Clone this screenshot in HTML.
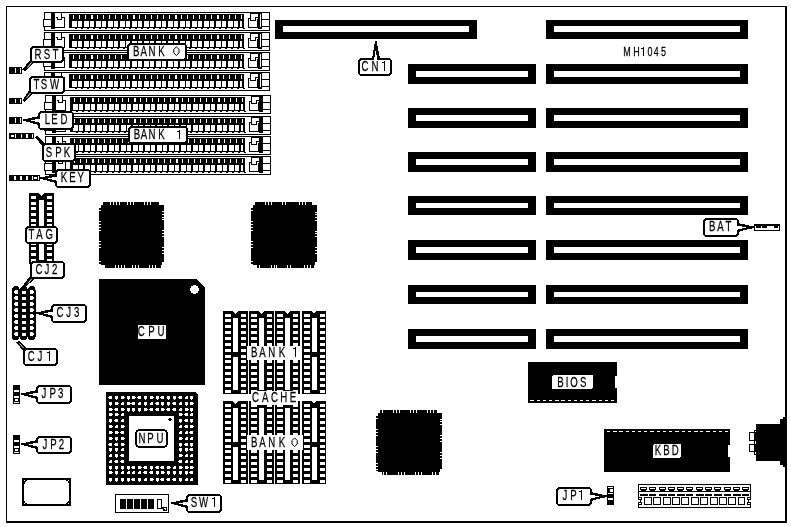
<!DOCTYPE html>
<html><head><meta charset="utf-8"><style>
html,body{margin:0;padding:0;background:#fff;}
svg{display:block;filter:grayscale(1);}
text{font-family:"Liberation Sans",sans-serif;stroke:#000;stroke-width:0.25px;}
</style></head><body>
<svg width="791" height="527" viewBox="0 0 791 527" shape-rendering="crispEdges">
<rect width="791" height="527" fill="#fff"/>
<rect x="6" y="6" width="780" height="1" fill="#000" />
<rect x="6" y="6" width="1" height="516" fill="#000" />
<rect x="785" y="6" width="2" height="517" fill="#000" />
<rect x="6" y="521" width="781" height="2" fill="#000" />
<rect x="546" y="20" width="202" height="19" fill="#000" />
<rect x="554" y="26" width="186" height="6" fill="#fff" />
<rect x="546" y="64" width="202" height="20" fill="#000" />
<rect x="554" y="71" width="186" height="6" fill="#fff" />
<rect x="408" y="64" width="128" height="20" fill="#000" />
<rect x="416" y="71" width="112" height="6" fill="#fff" />
<rect x="546" y="108" width="202" height="20" fill="#000" />
<rect x="554" y="115" width="186" height="6" fill="#fff" />
<rect x="408" y="108" width="128" height="20" fill="#000" />
<rect x="416" y="115" width="112" height="6" fill="#fff" />
<rect x="546" y="152" width="202" height="20" fill="#000" />
<rect x="554" y="159" width="186" height="6" fill="#fff" />
<rect x="408" y="152" width="128" height="20" fill="#000" />
<rect x="416" y="159" width="112" height="6" fill="#fff" />
<rect x="546" y="196" width="202" height="19" fill="#000" />
<rect x="554" y="203" width="186" height="5" fill="#fff" />
<rect x="408" y="196" width="128" height="19" fill="#000" />
<rect x="416" y="203" width="112" height="5" fill="#fff" />
<rect x="546" y="240" width="202" height="20" fill="#000" />
<rect x="554" y="247" width="186" height="6" fill="#fff" />
<rect x="408" y="240" width="128" height="20" fill="#000" />
<rect x="416" y="247" width="112" height="6" fill="#fff" />
<rect x="546" y="285" width="202" height="19" fill="#000" />
<rect x="554" y="292" width="186" height="5" fill="#fff" />
<rect x="408" y="285" width="128" height="19" fill="#000" />
<rect x="416" y="292" width="112" height="5" fill="#fff" />
<rect x="546" y="329" width="202" height="20" fill="#000" />
<rect x="554" y="336" width="186" height="6" fill="#fff" />
<rect x="408" y="329" width="128" height="20" fill="#000" />
<rect x="416" y="336" width="112" height="6" fill="#fff" />
<rect x="275" y="20" width="202" height="19" fill="#000" />
<rect x="283" y="26" width="186" height="6" fill="#fff" />
<path d="M103 202H159V205H164V262H162V265H161V268H105V265H101V264H99V208H101V205H103Z" fill="#000"/>
<rect x="110" y="202" width="1" height="3" fill="#fff" />
<rect x="113" y="202" width="1" height="3" fill="#fff" />
<rect x="116" y="202" width="1" height="3" fill="#fff" />
<rect x="119" y="202" width="1" height="3" fill="#fff" />
<rect x="127" y="202" width="1" height="3" fill="#fff" />
<rect x="130" y="202" width="1" height="3" fill="#fff" />
<rect x="133" y="202" width="1" height="3" fill="#fff" />
<rect x="144" y="202" width="1" height="3" fill="#fff" />
<rect x="147" y="202" width="1" height="3" fill="#fff" />
<rect x="150" y="202" width="1" height="3" fill="#fff" />
<rect x="115" y="265" width="1" height="3" fill="#fff" />
<rect x="118" y="265" width="1" height="3" fill="#fff" />
<rect x="121" y="265" width="1" height="3" fill="#fff" />
<rect x="124" y="265" width="1" height="3" fill="#fff" />
<rect x="132" y="265" width="1" height="3" fill="#fff" />
<rect x="135" y="265" width="1" height="3" fill="#fff" />
<rect x="138" y="265" width="1" height="3" fill="#fff" />
<rect x="149" y="265" width="1" height="3" fill="#fff" />
<rect x="152" y="265" width="1" height="3" fill="#fff" />
<rect x="155" y="265" width="1" height="3" fill="#fff" />
<rect x="99" y="210" width="2" height="1" fill="#fff" />
<rect x="99" y="221" width="2" height="1" fill="#fff" />
<rect x="99" y="224" width="2" height="1" fill="#fff" />
<rect x="99" y="227" width="2" height="1" fill="#fff" />
<rect x="99" y="230" width="2" height="1" fill="#fff" />
<rect x="99" y="241" width="2" height="1" fill="#fff" />
<rect x="99" y="244" width="2" height="1" fill="#fff" />
<rect x="99" y="247" width="2" height="1" fill="#fff" />
<rect x="99" y="261" width="2" height="1" fill="#fff" />
<rect x="162" y="211" width="2" height="1" fill="#fff" />
<rect x="162" y="214" width="2" height="1" fill="#fff" />
<rect x="162" y="217" width="2" height="1" fill="#fff" />
<rect x="162" y="219" width="2" height="1" fill="#fff" />
<rect x="162" y="230" width="2" height="1" fill="#fff" />
<rect x="162" y="233" width="2" height="1" fill="#fff" />
<rect x="162" y="236" width="2" height="1" fill="#fff" />
<rect x="162" y="247" width="2" height="1" fill="#fff" />
<rect x="162" y="250" width="2" height="1" fill="#fff" />
<rect x="162" y="253" width="2" height="1" fill="#fff" />
<path d="M255 202H312V205H317V262H315V265H314V268H257V265H253V264H251V208H253V205H255Z" fill="#000"/>
<rect x="265" y="202" width="1" height="3" fill="#fff" />
<rect x="268" y="202" width="1" height="3" fill="#fff" />
<rect x="271" y="202" width="1" height="3" fill="#fff" />
<rect x="282" y="202" width="1" height="3" fill="#fff" />
<rect x="285" y="202" width="1" height="3" fill="#fff" />
<rect x="299" y="202" width="1" height="3" fill="#fff" />
<rect x="302" y="202" width="1" height="3" fill="#fff" />
<rect x="305" y="202" width="1" height="3" fill="#fff" />
<rect x="259" y="265" width="1" height="3" fill="#fff" />
<rect x="271" y="265" width="1" height="3" fill="#fff" />
<rect x="274" y="265" width="1" height="3" fill="#fff" />
<rect x="276" y="265" width="1" height="3" fill="#fff" />
<rect x="287" y="265" width="1" height="3" fill="#fff" />
<rect x="290" y="265" width="1" height="3" fill="#fff" />
<rect x="304" y="265" width="1" height="3" fill="#fff" />
<rect x="307" y="265" width="1" height="3" fill="#fff" />
<rect x="310" y="265" width="1" height="3" fill="#fff" />
<rect x="251" y="210" width="2" height="1" fill="#fff" />
<rect x="251" y="221" width="2" height="1" fill="#fff" />
<rect x="251" y="224" width="2" height="1" fill="#fff" />
<rect x="251" y="227" width="2" height="1" fill="#fff" />
<rect x="251" y="230" width="2" height="1" fill="#fff" />
<rect x="251" y="241" width="2" height="1" fill="#fff" />
<rect x="251" y="244" width="2" height="1" fill="#fff" />
<rect x="251" y="247" width="2" height="1" fill="#fff" />
<rect x="251" y="261" width="2" height="1" fill="#fff" />
<rect x="315" y="212" width="2" height="1" fill="#fff" />
<rect x="315" y="214" width="2" height="1" fill="#fff" />
<rect x="315" y="217" width="2" height="1" fill="#fff" />
<rect x="315" y="220" width="2" height="1" fill="#fff" />
<rect x="315" y="231" width="2" height="1" fill="#fff" />
<rect x="315" y="233" width="2" height="1" fill="#fff" />
<rect x="315" y="236" width="2" height="1" fill="#fff" />
<rect x="315" y="247" width="2" height="1" fill="#fff" />
<rect x="315" y="250" width="2" height="1" fill="#fff" />
<rect x="315" y="253" width="2" height="1" fill="#fff" />
<path d="M380 410H437V413H442V469H440V472H439V475H382V472H378V471H376V416H378V413H380Z" fill="#000"/>
<rect x="382" y="410" width="1" height="3" fill="#fff" />
<rect x="393" y="410" width="1" height="3" fill="#fff" />
<rect x="396" y="410" width="1" height="3" fill="#fff" />
<rect x="399" y="410" width="1" height="3" fill="#fff" />
<rect x="410" y="410" width="1" height="3" fill="#fff" />
<rect x="413" y="410" width="1" height="3" fill="#fff" />
<rect x="416" y="410" width="1" height="3" fill="#fff" />
<rect x="427" y="410" width="1" height="3" fill="#fff" />
<rect x="430" y="410" width="1" height="3" fill="#fff" />
<rect x="433" y="410" width="1" height="3" fill="#fff" />
<rect x="383" y="472" width="1" height="3" fill="#fff" />
<rect x="386" y="472" width="1" height="3" fill="#fff" />
<rect x="398" y="472" width="1" height="3" fill="#fff" />
<rect x="401" y="472" width="1" height="3" fill="#fff" />
<rect x="404" y="472" width="1" height="3" fill="#fff" />
<rect x="415" y="472" width="1" height="3" fill="#fff" />
<rect x="418" y="472" width="1" height="3" fill="#fff" />
<rect x="421" y="472" width="1" height="3" fill="#fff" />
<rect x="432" y="472" width="1" height="3" fill="#fff" />
<rect x="435" y="472" width="1" height="3" fill="#fff" />
<rect x="376" y="418" width="2" height="1" fill="#fff" />
<rect x="376" y="429" width="2" height="1" fill="#fff" />
<rect x="376" y="432" width="2" height="1" fill="#fff" />
<rect x="376" y="435" width="2" height="1" fill="#fff" />
<rect x="376" y="446" width="2" height="1" fill="#fff" />
<rect x="376" y="449" width="2" height="1" fill="#fff" />
<rect x="376" y="452" width="2" height="1" fill="#fff" />
<rect x="376" y="463" width="2" height="1" fill="#fff" />
<rect x="376" y="466" width="2" height="1" fill="#fff" />
<rect x="376" y="469" width="2" height="1" fill="#fff" />
<rect x="440" y="419" width="2" height="1" fill="#fff" />
<rect x="440" y="421" width="2" height="1" fill="#fff" />
<rect x="440" y="424" width="2" height="1" fill="#fff" />
<rect x="440" y="435" width="2" height="1" fill="#fff" />
<rect x="440" y="438" width="2" height="1" fill="#fff" />
<rect x="440" y="441" width="2" height="1" fill="#fff" />
<rect x="440" y="452" width="2" height="1" fill="#fff" />
<rect x="440" y="455" width="2" height="1" fill="#fff" />
<rect x="440" y="458" width="2" height="1" fill="#fff" />
<path d="M99 279H196.5L205 287.5V385H99Z" fill="#000"/>
<circle cx="194.5" cy="289.4" r="4.4" fill="#fff"/>
<rect x="138" y="325" width="28" height="14" fill="#fff" />
<text transform="scale(0.68,1)" x="207.79 222.79 236.76" y="335.7" font-size="14.2" text-anchor="middle" fill="#000">CPU</text>
<path d="M106 392H195L198 395V485H106Z" fill="#000"/>
<rect x="109" y="396" width="3" height="3" fill="#fff" />
<rect x="108" y="397" width="1" height="1" fill="#fff" />
<rect x="115" y="396" width="3" height="3" fill="#fff" />
<rect x="116" y="399" width="1" height="1" fill="#fff" />
<rect x="121" y="396" width="3" height="3" fill="#fff" />
<rect x="124" y="397" width="1" height="1" fill="#fff" />
<rect x="127" y="396" width="3" height="3" fill="#fff" />
<rect x="128" y="399" width="1" height="1" fill="#fff" />
<rect x="132" y="396" width="3" height="3" fill="#fff" />
<rect x="135" y="397" width="1" height="1" fill="#fff" />
<rect x="138" y="396" width="3" height="3" fill="#fff" />
<rect x="137" y="397" width="1" height="1" fill="#fff" />
<rect x="144" y="396" width="3" height="3" fill="#fff" />
<rect x="145" y="399" width="1" height="1" fill="#fff" />
<rect x="150" y="396" width="3" height="3" fill="#fff" />
<rect x="153" y="397" width="1" height="1" fill="#fff" />
<rect x="156" y="396" width="3" height="3" fill="#fff" />
<rect x="157" y="399" width="1" height="1" fill="#fff" />
<rect x="161" y="396" width="3" height="3" fill="#fff" />
<rect x="160" y="397" width="1" height="1" fill="#fff" />
<rect x="167" y="396" width="3" height="3" fill="#fff" />
<rect x="168" y="399" width="1" height="1" fill="#fff" />
<rect x="173" y="396" width="3" height="3" fill="#fff" />
<rect x="174" y="399" width="1" height="1" fill="#fff" />
<rect x="179" y="396" width="3" height="3" fill="#fff" />
<rect x="178" y="397" width="1" height="1" fill="#fff" />
<rect x="185" y="396" width="3" height="3" fill="#fff" />
<rect x="185" y="396" width="1" height="1" fill="#000" />
<rect x="190" y="396" width="3" height="3" fill="#fff" />
<rect x="191" y="399" width="1" height="1" fill="#fff" />
<rect x="109" y="402" width="3" height="3" fill="#fff" />
<rect x="110" y="405" width="1" height="1" fill="#fff" />
<rect x="115" y="402" width="3" height="3" fill="#fff" />
<rect x="118" y="403" width="1" height="1" fill="#fff" />
<rect x="121" y="402" width="3" height="3" fill="#fff" />
<rect x="121" y="402" width="1" height="1" fill="#000" />
<rect x="127" y="402" width="3" height="3" fill="#fff" />
<rect x="130" y="403" width="1" height="1" fill="#fff" />
<rect x="132" y="402" width="3" height="3" fill="#fff" />
<rect x="131" y="403" width="1" height="1" fill="#fff" />
<rect x="138" y="402" width="3" height="3" fill="#fff" />
<rect x="138" y="402" width="1" height="1" fill="#000" />
<rect x="144" y="402" width="3" height="3" fill="#fff" />
<rect x="145" y="405" width="1" height="1" fill="#fff" />
<rect x="150" y="402" width="3" height="3" fill="#fff" />
<rect x="150" y="402" width="1" height="1" fill="#000" />
<rect x="156" y="402" width="3" height="3" fill="#fff" />
<rect x="155" y="403" width="1" height="1" fill="#fff" />
<rect x="161" y="402" width="3" height="3" fill="#fff" />
<rect x="162" y="405" width="1" height="1" fill="#fff" />
<rect x="167" y="402" width="3" height="3" fill="#fff" />
<rect x="168" y="405" width="1" height="1" fill="#fff" />
<rect x="173" y="402" width="3" height="3" fill="#fff" />
<rect x="172" y="403" width="1" height="1" fill="#fff" />
<rect x="179" y="402" width="3" height="3" fill="#fff" />
<rect x="179" y="402" width="1" height="1" fill="#000" />
<rect x="185" y="402" width="3" height="3" fill="#fff" />
<rect x="186" y="405" width="1" height="1" fill="#fff" />
<rect x="190" y="402" width="3" height="3" fill="#fff" />
<rect x="193" y="403" width="1" height="1" fill="#fff" />
<rect x="109" y="408" width="3" height="3" fill="#fff" />
<rect x="112" y="409" width="1" height="1" fill="#fff" />
<rect x="115" y="408" width="3" height="3" fill="#fff" />
<rect x="114" y="409" width="1" height="1" fill="#fff" />
<rect x="121" y="408" width="3" height="3" fill="#fff" />
<rect x="124" y="409" width="1" height="1" fill="#fff" />
<rect x="127" y="408" width="3" height="3" fill="#fff" />
<rect x="128" y="411" width="1" height="1" fill="#fff" />
<rect x="132" y="408" width="3" height="3" fill="#fff" />
<rect x="133" y="411" width="1" height="1" fill="#fff" />
<rect x="138" y="408" width="3" height="3" fill="#fff" />
<rect x="139" y="411" width="1" height="1" fill="#fff" />
<rect x="144" y="408" width="3" height="3" fill="#fff" />
<rect x="147" y="409" width="1" height="1" fill="#fff" />
<rect x="150" y="408" width="3" height="3" fill="#fff" />
<rect x="149" y="409" width="1" height="1" fill="#fff" />
<rect x="156" y="408" width="3" height="3" fill="#fff" />
<rect x="155" y="409" width="1" height="1" fill="#fff" />
<rect x="161" y="408" width="3" height="3" fill="#fff" />
<rect x="164" y="409" width="1" height="1" fill="#fff" />
<rect x="167" y="408" width="3" height="3" fill="#fff" />
<rect x="166" y="409" width="1" height="1" fill="#fff" />
<rect x="173" y="408" width="3" height="3" fill="#fff" />
<rect x="172" y="409" width="1" height="1" fill="#fff" />
<rect x="179" y="408" width="3" height="3" fill="#fff" />
<rect x="179" y="408" width="1" height="1" fill="#000" />
<rect x="185" y="408" width="3" height="3" fill="#fff" />
<rect x="188" y="409" width="1" height="1" fill="#fff" />
<rect x="190" y="408" width="3" height="3" fill="#fff" />
<rect x="191" y="411" width="1" height="1" fill="#fff" />
<rect x="109" y="413" width="3" height="3" fill="#fff" />
<rect x="112" y="414" width="1" height="1" fill="#fff" />
<rect x="115" y="413" width="3" height="3" fill="#fff" />
<rect x="118" y="414" width="1" height="1" fill="#fff" />
<rect x="121" y="413" width="3" height="3" fill="#fff" />
<rect x="121" y="413" width="1" height="1" fill="#000" />
<rect x="179" y="413" width="3" height="3" fill="#fff" />
<rect x="182" y="414" width="1" height="1" fill="#fff" />
<rect x="185" y="413" width="3" height="3" fill="#fff" />
<rect x="184" y="414" width="1" height="1" fill="#fff" />
<rect x="190" y="413" width="3" height="3" fill="#fff" />
<rect x="190" y="413" width="1" height="1" fill="#000" />
<rect x="109" y="419" width="3" height="3" fill="#fff" />
<rect x="110" y="422" width="1" height="1" fill="#fff" />
<rect x="115" y="419" width="3" height="3" fill="#fff" />
<rect x="114" y="420" width="1" height="1" fill="#fff" />
<rect x="121" y="419" width="3" height="3" fill="#fff" />
<rect x="121" y="419" width="1" height="1" fill="#000" />
<rect x="179" y="419" width="3" height="3" fill="#fff" />
<rect x="180" y="422" width="1" height="1" fill="#fff" />
<rect x="185" y="419" width="3" height="3" fill="#fff" />
<rect x="184" y="420" width="1" height="1" fill="#fff" />
<rect x="190" y="419" width="3" height="3" fill="#fff" />
<rect x="191" y="422" width="1" height="1" fill="#fff" />
<rect x="109" y="425" width="3" height="3" fill="#fff" />
<rect x="112" y="426" width="1" height="1" fill="#fff" />
<rect x="115" y="425" width="3" height="3" fill="#fff" />
<rect x="115" y="425" width="1" height="1" fill="#000" />
<rect x="121" y="425" width="3" height="3" fill="#fff" />
<rect x="124" y="426" width="1" height="1" fill="#fff" />
<rect x="179" y="425" width="3" height="3" fill="#fff" />
<rect x="179" y="425" width="1" height="1" fill="#000" />
<rect x="185" y="425" width="3" height="3" fill="#fff" />
<rect x="184" y="426" width="1" height="1" fill="#fff" />
<rect x="190" y="425" width="3" height="3" fill="#fff" />
<rect x="193" y="426" width="1" height="1" fill="#fff" />
<rect x="109" y="431" width="3" height="3" fill="#fff" />
<rect x="112" y="432" width="1" height="1" fill="#fff" />
<rect x="115" y="431" width="3" height="3" fill="#fff" />
<rect x="118" y="432" width="1" height="1" fill="#fff" />
<rect x="121" y="431" width="3" height="3" fill="#fff" />
<rect x="120" y="432" width="1" height="1" fill="#fff" />
<rect x="179" y="431" width="3" height="3" fill="#fff" />
<rect x="179" y="431" width="1" height="1" fill="#000" />
<rect x="185" y="431" width="3" height="3" fill="#fff" />
<rect x="185" y="431" width="1" height="1" fill="#000" />
<rect x="190" y="431" width="3" height="3" fill="#fff" />
<rect x="189" y="432" width="1" height="1" fill="#fff" />
<rect x="109" y="437" width="3" height="3" fill="#fff" />
<rect x="112" y="438" width="1" height="1" fill="#fff" />
<rect x="115" y="437" width="3" height="3" fill="#fff" />
<rect x="116" y="440" width="1" height="1" fill="#fff" />
<rect x="121" y="437" width="3" height="3" fill="#fff" />
<rect x="124" y="438" width="1" height="1" fill="#fff" />
<rect x="179" y="437" width="3" height="3" fill="#fff" />
<rect x="182" y="438" width="1" height="1" fill="#fff" />
<rect x="185" y="437" width="3" height="3" fill="#fff" />
<rect x="185" y="437" width="1" height="1" fill="#000" />
<rect x="190" y="437" width="3" height="3" fill="#fff" />
<rect x="190" y="437" width="1" height="1" fill="#000" />
<rect x="109" y="443" width="3" height="3" fill="#fff" />
<rect x="108" y="444" width="1" height="1" fill="#fff" />
<rect x="115" y="443" width="3" height="3" fill="#fff" />
<rect x="114" y="444" width="1" height="1" fill="#fff" />
<rect x="121" y="443" width="3" height="3" fill="#fff" />
<rect x="124" y="444" width="1" height="1" fill="#fff" />
<rect x="179" y="443" width="3" height="3" fill="#fff" />
<rect x="180" y="446" width="1" height="1" fill="#fff" />
<rect x="185" y="443" width="3" height="3" fill="#fff" />
<rect x="184" y="444" width="1" height="1" fill="#fff" />
<rect x="190" y="443" width="3" height="3" fill="#fff" />
<rect x="191" y="446" width="1" height="1" fill="#fff" />
<rect x="109" y="448" width="3" height="3" fill="#fff" />
<rect x="110" y="451" width="1" height="1" fill="#fff" />
<rect x="115" y="448" width="3" height="3" fill="#fff" />
<rect x="116" y="451" width="1" height="1" fill="#fff" />
<rect x="121" y="448" width="3" height="3" fill="#fff" />
<rect x="121" y="448" width="1" height="1" fill="#000" />
<rect x="179" y="448" width="3" height="3" fill="#fff" />
<rect x="180" y="451" width="1" height="1" fill="#fff" />
<rect x="185" y="448" width="3" height="3" fill="#fff" />
<rect x="186" y="451" width="1" height="1" fill="#fff" />
<rect x="190" y="448" width="3" height="3" fill="#fff" />
<rect x="189" y="449" width="1" height="1" fill="#fff" />
<rect x="109" y="454" width="3" height="3" fill="#fff" />
<rect x="109" y="454" width="1" height="1" fill="#000" />
<rect x="115" y="454" width="3" height="3" fill="#fff" />
<rect x="116" y="457" width="1" height="1" fill="#fff" />
<rect x="121" y="454" width="3" height="3" fill="#fff" />
<rect x="120" y="455" width="1" height="1" fill="#fff" />
<rect x="179" y="454" width="3" height="3" fill="#fff" />
<rect x="182" y="455" width="1" height="1" fill="#fff" />
<rect x="185" y="454" width="3" height="3" fill="#fff" />
<rect x="185" y="454" width="1" height="1" fill="#000" />
<rect x="190" y="454" width="3" height="3" fill="#fff" />
<rect x="190" y="454" width="1" height="1" fill="#000" />
<rect x="109" y="460" width="3" height="3" fill="#fff" />
<rect x="109" y="460" width="1" height="1" fill="#000" />
<rect x="115" y="460" width="3" height="3" fill="#fff" />
<rect x="114" y="461" width="1" height="1" fill="#fff" />
<rect x="121" y="460" width="3" height="3" fill="#fff" />
<rect x="120" y="461" width="1" height="1" fill="#fff" />
<rect x="179" y="460" width="3" height="3" fill="#fff" />
<rect x="178" y="461" width="1" height="1" fill="#fff" />
<rect x="185" y="460" width="3" height="3" fill="#fff" />
<rect x="185" y="460" width="1" height="1" fill="#000" />
<rect x="190" y="460" width="3" height="3" fill="#fff" />
<rect x="190" y="460" width="1" height="1" fill="#000" />
<rect x="109" y="466" width="3" height="3" fill="#fff" />
<rect x="110" y="469" width="1" height="1" fill="#fff" />
<rect x="115" y="466" width="3" height="3" fill="#fff" />
<rect x="116" y="469" width="1" height="1" fill="#fff" />
<rect x="121" y="466" width="3" height="3" fill="#fff" />
<rect x="122" y="469" width="1" height="1" fill="#fff" />
<rect x="127" y="466" width="3" height="3" fill="#fff" />
<rect x="128" y="469" width="1" height="1" fill="#fff" />
<rect x="132" y="466" width="3" height="3" fill="#fff" />
<rect x="131" y="467" width="1" height="1" fill="#fff" />
<rect x="138" y="466" width="3" height="3" fill="#fff" />
<rect x="141" y="467" width="1" height="1" fill="#fff" />
<rect x="144" y="466" width="3" height="3" fill="#fff" />
<rect x="143" y="467" width="1" height="1" fill="#fff" />
<rect x="150" y="466" width="3" height="3" fill="#fff" />
<rect x="151" y="469" width="1" height="1" fill="#fff" />
<rect x="156" y="466" width="3" height="3" fill="#fff" />
<rect x="155" y="467" width="1" height="1" fill="#fff" />
<rect x="161" y="466" width="3" height="3" fill="#fff" />
<rect x="160" y="467" width="1" height="1" fill="#fff" />
<rect x="167" y="466" width="3" height="3" fill="#fff" />
<rect x="170" y="467" width="1" height="1" fill="#fff" />
<rect x="173" y="466" width="3" height="3" fill="#fff" />
<rect x="173" y="466" width="1" height="1" fill="#000" />
<rect x="179" y="466" width="3" height="3" fill="#fff" />
<rect x="182" y="467" width="1" height="1" fill="#fff" />
<rect x="185" y="466" width="3" height="3" fill="#fff" />
<rect x="188" y="467" width="1" height="1" fill="#fff" />
<rect x="190" y="466" width="3" height="3" fill="#fff" />
<rect x="193" y="467" width="1" height="1" fill="#fff" />
<rect x="109" y="471" width="3" height="3" fill="#fff" />
<rect x="112" y="472" width="1" height="1" fill="#fff" />
<rect x="115" y="471" width="3" height="3" fill="#fff" />
<rect x="116" y="474" width="1" height="1" fill="#fff" />
<rect x="121" y="471" width="3" height="3" fill="#fff" />
<rect x="121" y="471" width="1" height="1" fill="#000" />
<rect x="127" y="471" width="3" height="3" fill="#fff" />
<rect x="127" y="471" width="1" height="1" fill="#000" />
<rect x="132" y="471" width="3" height="3" fill="#fff" />
<rect x="132" y="471" width="1" height="1" fill="#000" />
<rect x="138" y="471" width="3" height="3" fill="#fff" />
<rect x="138" y="471" width="1" height="1" fill="#000" />
<rect x="144" y="471" width="3" height="3" fill="#fff" />
<rect x="143" y="472" width="1" height="1" fill="#fff" />
<rect x="150" y="471" width="3" height="3" fill="#fff" />
<rect x="149" y="472" width="1" height="1" fill="#fff" />
<rect x="156" y="471" width="3" height="3" fill="#fff" />
<rect x="157" y="474" width="1" height="1" fill="#fff" />
<rect x="161" y="471" width="3" height="3" fill="#fff" />
<rect x="164" y="472" width="1" height="1" fill="#fff" />
<rect x="167" y="471" width="3" height="3" fill="#fff" />
<rect x="168" y="474" width="1" height="1" fill="#fff" />
<rect x="173" y="471" width="3" height="3" fill="#fff" />
<rect x="174" y="474" width="1" height="1" fill="#fff" />
<rect x="179" y="471" width="3" height="3" fill="#fff" />
<rect x="180" y="474" width="1" height="1" fill="#fff" />
<rect x="185" y="471" width="3" height="3" fill="#fff" />
<rect x="186" y="474" width="1" height="1" fill="#fff" />
<rect x="190" y="471" width="3" height="3" fill="#fff" />
<rect x="189" y="472" width="1" height="1" fill="#fff" />
<rect x="109" y="478" width="3" height="3" fill="#fff" />
<rect x="110" y="481" width="1" height="1" fill="#fff" />
<rect x="115" y="478" width="3" height="3" fill="#fff" />
<rect x="116" y="481" width="1" height="1" fill="#fff" />
<rect x="121" y="478" width="3" height="3" fill="#fff" />
<rect x="122" y="481" width="1" height="1" fill="#fff" />
<rect x="127" y="478" width="3" height="3" fill="#fff" />
<rect x="128" y="481" width="1" height="1" fill="#fff" />
<rect x="132" y="478" width="3" height="3" fill="#fff" />
<rect x="131" y="479" width="1" height="1" fill="#fff" />
<rect x="138" y="478" width="3" height="3" fill="#fff" />
<rect x="139" y="481" width="1" height="1" fill="#fff" />
<rect x="144" y="478" width="3" height="3" fill="#fff" />
<rect x="144" y="478" width="1" height="1" fill="#000" />
<rect x="150" y="478" width="3" height="3" fill="#fff" />
<rect x="153" y="479" width="1" height="1" fill="#fff" />
<rect x="156" y="478" width="3" height="3" fill="#fff" />
<rect x="157" y="481" width="1" height="1" fill="#fff" />
<rect x="161" y="478" width="3" height="3" fill="#fff" />
<rect x="160" y="479" width="1" height="1" fill="#fff" />
<rect x="167" y="478" width="3" height="3" fill="#fff" />
<rect x="166" y="479" width="1" height="1" fill="#fff" />
<rect x="173" y="478" width="3" height="3" fill="#fff" />
<rect x="172" y="479" width="1" height="1" fill="#fff" />
<rect x="179" y="478" width="3" height="3" fill="#fff" />
<rect x="180" y="481" width="1" height="1" fill="#fff" />
<rect x="185" y="478" width="3" height="3" fill="#fff" />
<rect x="185" y="478" width="1" height="1" fill="#000" />
<rect x="190" y="478" width="3" height="3" fill="#fff" />
<rect x="190" y="478" width="1" height="1" fill="#000" />
<rect x="129" y="416" width="45" height="45" fill="#fff" />
<circle cx="170" cy="419.5" r="1.8" fill="#000"/>
<rect x="136.0" y="430.0" width="31" height="17" rx="4" ry="4" fill="#fff" stroke="#000" stroke-width="2"/>
<text transform="scale(0.68,1)" x="208.82 221.18 235.29" y="442.8" font-size="14.2" text-anchor="middle" fill="#000">NPU</text>
<rect x="223" y="311" width="25" height="83" fill="#000" />
<path d="M233.0 311L235.5 314L238.0 311Z" fill="#fff"/>
<rect x="225" y="314" width="5.5" height="3" fill="#fff" />
<rect x="241" y="314" width="5" height="3" fill="#fff" />
<rect x="225" y="319" width="5.5" height="3" fill="#fff" />
<rect x="241" y="319" width="5" height="3" fill="#fff" />
<rect x="225" y="325" width="5.5" height="3" fill="#fff" />
<rect x="241" y="325" width="5" height="3" fill="#fff" />
<rect x="225" y="331" width="5.5" height="3" fill="#fff" />
<rect x="241" y="331" width="5" height="3" fill="#fff" />
<rect x="225" y="337" width="5.5" height="3" fill="#fff" />
<rect x="241" y="337" width="5" height="3" fill="#fff" />
<rect x="225" y="343" width="5.5" height="3" fill="#fff" />
<rect x="241" y="343" width="5" height="3" fill="#fff" />
<rect x="225" y="349" width="5.5" height="3" fill="#fff" />
<rect x="241" y="349" width="5" height="3" fill="#fff" />
<rect x="225" y="355" width="5.5" height="3" fill="#fff" />
<rect x="241" y="355" width="5" height="3" fill="#fff" />
<rect x="225" y="360" width="5.5" height="3" fill="#fff" />
<rect x="241" y="360" width="5" height="3" fill="#fff" />
<rect x="225" y="366" width="5.5" height="3" fill="#fff" />
<rect x="241" y="366" width="5" height="3" fill="#fff" />
<rect x="225" y="372" width="5.5" height="3" fill="#fff" />
<rect x="241" y="372" width="5" height="3" fill="#fff" />
<rect x="225" y="378" width="5.5" height="3" fill="#fff" />
<rect x="241" y="378" width="5" height="3" fill="#fff" />
<rect x="225" y="384" width="5.5" height="3" fill="#fff" />
<rect x="241" y="384" width="5" height="3" fill="#fff" />
<rect x="225" y="390" width="5.5" height="3" fill="#fff" />
<rect x="241" y="390" width="5" height="3" fill="#fff" />
<rect x="233" y="318" width="5" height="34" fill="#fff" />
<rect x="233" y="357" width="5" height="33" fill="#fff" />
<rect x="223" y="401" width="25" height="83" fill="#000" />
<path d="M233.0 401L235.5 404L238.0 401Z" fill="#fff"/>
<rect x="225" y="404" width="5.5" height="3" fill="#fff" />
<rect x="241" y="404" width="5" height="3" fill="#fff" />
<rect x="225" y="409" width="5.5" height="3" fill="#fff" />
<rect x="241" y="409" width="5" height="3" fill="#fff" />
<rect x="225" y="415" width="5.5" height="3" fill="#fff" />
<rect x="241" y="415" width="5" height="3" fill="#fff" />
<rect x="225" y="421" width="5.5" height="3" fill="#fff" />
<rect x="241" y="421" width="5" height="3" fill="#fff" />
<rect x="225" y="427" width="5.5" height="3" fill="#fff" />
<rect x="241" y="427" width="5" height="3" fill="#fff" />
<rect x="225" y="433" width="5.5" height="3" fill="#fff" />
<rect x="241" y="433" width="5" height="3" fill="#fff" />
<rect x="225" y="439" width="5.5" height="3" fill="#fff" />
<rect x="241" y="439" width="5" height="3" fill="#fff" />
<rect x="225" y="445" width="5.5" height="3" fill="#fff" />
<rect x="241" y="445" width="5" height="3" fill="#fff" />
<rect x="225" y="450" width="5.5" height="3" fill="#fff" />
<rect x="241" y="450" width="5" height="3" fill="#fff" />
<rect x="225" y="456" width="5.5" height="3" fill="#fff" />
<rect x="241" y="456" width="5" height="3" fill="#fff" />
<rect x="225" y="462" width="5.5" height="3" fill="#fff" />
<rect x="241" y="462" width="5" height="3" fill="#fff" />
<rect x="225" y="468" width="5.5" height="3" fill="#fff" />
<rect x="241" y="468" width="5" height="3" fill="#fff" />
<rect x="225" y="474" width="5.5" height="3" fill="#fff" />
<rect x="241" y="474" width="5" height="3" fill="#fff" />
<rect x="225" y="480" width="5.5" height="3" fill="#fff" />
<rect x="241" y="480" width="5" height="3" fill="#fff" />
<rect x="233" y="408" width="5" height="34" fill="#fff" />
<rect x="233" y="447" width="5" height="33" fill="#fff" />
<rect x="249" y="311" width="25" height="83" fill="#000" />
<path d="M259.0 311L261.5 314L264.0 311Z" fill="#fff"/>
<rect x="251" y="314" width="5.5" height="3" fill="#fff" />
<rect x="267" y="314" width="5" height="3" fill="#fff" />
<rect x="251" y="319" width="5.5" height="3" fill="#fff" />
<rect x="267" y="319" width="5" height="3" fill="#fff" />
<rect x="251" y="325" width="5.5" height="3" fill="#fff" />
<rect x="267" y="325" width="5" height="3" fill="#fff" />
<rect x="251" y="331" width="5.5" height="3" fill="#fff" />
<rect x="267" y="331" width="5" height="3" fill="#fff" />
<rect x="251" y="337" width="5.5" height="3" fill="#fff" />
<rect x="267" y="337" width="5" height="3" fill="#fff" />
<rect x="251" y="343" width="5.5" height="3" fill="#fff" />
<rect x="267" y="343" width="5" height="3" fill="#fff" />
<rect x="251" y="349" width="5.5" height="3" fill="#fff" />
<rect x="267" y="349" width="5" height="3" fill="#fff" />
<rect x="251" y="355" width="5.5" height="3" fill="#fff" />
<rect x="267" y="355" width="5" height="3" fill="#fff" />
<rect x="251" y="360" width="5.5" height="3" fill="#fff" />
<rect x="267" y="360" width="5" height="3" fill="#fff" />
<rect x="251" y="366" width="5.5" height="3" fill="#fff" />
<rect x="267" y="366" width="5" height="3" fill="#fff" />
<rect x="251" y="372" width="5.5" height="3" fill="#fff" />
<rect x="267" y="372" width="5" height="3" fill="#fff" />
<rect x="251" y="378" width="5.5" height="3" fill="#fff" />
<rect x="267" y="378" width="5" height="3" fill="#fff" />
<rect x="251" y="384" width="5.5" height="3" fill="#fff" />
<rect x="267" y="384" width="5" height="3" fill="#fff" />
<rect x="251" y="390" width="5.5" height="3" fill="#fff" />
<rect x="267" y="390" width="5" height="3" fill="#fff" />
<rect x="259" y="318" width="5" height="34" fill="#fff" />
<rect x="259" y="357" width="5" height="33" fill="#fff" />
<rect x="249" y="401" width="25" height="83" fill="#000" />
<path d="M259.0 401L261.5 404L264.0 401Z" fill="#fff"/>
<rect x="251" y="404" width="5.5" height="3" fill="#fff" />
<rect x="267" y="404" width="5" height="3" fill="#fff" />
<rect x="251" y="409" width="5.5" height="3" fill="#fff" />
<rect x="267" y="409" width="5" height="3" fill="#fff" />
<rect x="251" y="415" width="5.5" height="3" fill="#fff" />
<rect x="267" y="415" width="5" height="3" fill="#fff" />
<rect x="251" y="421" width="5.5" height="3" fill="#fff" />
<rect x="267" y="421" width="5" height="3" fill="#fff" />
<rect x="251" y="427" width="5.5" height="3" fill="#fff" />
<rect x="267" y="427" width="5" height="3" fill="#fff" />
<rect x="251" y="433" width="5.5" height="3" fill="#fff" />
<rect x="267" y="433" width="5" height="3" fill="#fff" />
<rect x="251" y="439" width="5.5" height="3" fill="#fff" />
<rect x="267" y="439" width="5" height="3" fill="#fff" />
<rect x="251" y="445" width="5.5" height="3" fill="#fff" />
<rect x="267" y="445" width="5" height="3" fill="#fff" />
<rect x="251" y="450" width="5.5" height="3" fill="#fff" />
<rect x="267" y="450" width="5" height="3" fill="#fff" />
<rect x="251" y="456" width="5.5" height="3" fill="#fff" />
<rect x="267" y="456" width="5" height="3" fill="#fff" />
<rect x="251" y="462" width="5.5" height="3" fill="#fff" />
<rect x="267" y="462" width="5" height="3" fill="#fff" />
<rect x="251" y="468" width="5.5" height="3" fill="#fff" />
<rect x="267" y="468" width="5" height="3" fill="#fff" />
<rect x="251" y="474" width="5.5" height="3" fill="#fff" />
<rect x="267" y="474" width="5" height="3" fill="#fff" />
<rect x="251" y="480" width="5.5" height="3" fill="#fff" />
<rect x="267" y="480" width="5" height="3" fill="#fff" />
<rect x="259" y="408" width="5" height="34" fill="#fff" />
<rect x="259" y="447" width="5" height="33" fill="#fff" />
<rect x="275" y="311" width="25" height="83" fill="#000" />
<path d="M285.0 311L287.5 314L290.0 311Z" fill="#fff"/>
<rect x="277" y="314" width="5.5" height="3" fill="#fff" />
<rect x="293" y="314" width="5" height="3" fill="#fff" />
<rect x="277" y="319" width="5.5" height="3" fill="#fff" />
<rect x="293" y="319" width="5" height="3" fill="#fff" />
<rect x="277" y="325" width="5.5" height="3" fill="#fff" />
<rect x="293" y="325" width="5" height="3" fill="#fff" />
<rect x="277" y="331" width="5.5" height="3" fill="#fff" />
<rect x="293" y="331" width="5" height="3" fill="#fff" />
<rect x="277" y="337" width="5.5" height="3" fill="#fff" />
<rect x="293" y="337" width="5" height="3" fill="#fff" />
<rect x="277" y="343" width="5.5" height="3" fill="#fff" />
<rect x="293" y="343" width="5" height="3" fill="#fff" />
<rect x="277" y="349" width="5.5" height="3" fill="#fff" />
<rect x="293" y="349" width="5" height="3" fill="#fff" />
<rect x="277" y="355" width="5.5" height="3" fill="#fff" />
<rect x="293" y="355" width="5" height="3" fill="#fff" />
<rect x="277" y="360" width="5.5" height="3" fill="#fff" />
<rect x="293" y="360" width="5" height="3" fill="#fff" />
<rect x="277" y="366" width="5.5" height="3" fill="#fff" />
<rect x="293" y="366" width="5" height="3" fill="#fff" />
<rect x="277" y="372" width="5.5" height="3" fill="#fff" />
<rect x="293" y="372" width="5" height="3" fill="#fff" />
<rect x="277" y="378" width="5.5" height="3" fill="#fff" />
<rect x="293" y="378" width="5" height="3" fill="#fff" />
<rect x="277" y="384" width="5.5" height="3" fill="#fff" />
<rect x="293" y="384" width="5" height="3" fill="#fff" />
<rect x="277" y="390" width="5.5" height="3" fill="#fff" />
<rect x="293" y="390" width="5" height="3" fill="#fff" />
<rect x="285" y="318" width="5" height="34" fill="#fff" />
<rect x="285" y="357" width="5" height="33" fill="#fff" />
<rect x="275" y="401" width="25" height="83" fill="#000" />
<path d="M285.0 401L287.5 404L290.0 401Z" fill="#fff"/>
<rect x="277" y="404" width="5.5" height="3" fill="#fff" />
<rect x="293" y="404" width="5" height="3" fill="#fff" />
<rect x="277" y="409" width="5.5" height="3" fill="#fff" />
<rect x="293" y="409" width="5" height="3" fill="#fff" />
<rect x="277" y="415" width="5.5" height="3" fill="#fff" />
<rect x="293" y="415" width="5" height="3" fill="#fff" />
<rect x="277" y="421" width="5.5" height="3" fill="#fff" />
<rect x="293" y="421" width="5" height="3" fill="#fff" />
<rect x="277" y="427" width="5.5" height="3" fill="#fff" />
<rect x="293" y="427" width="5" height="3" fill="#fff" />
<rect x="277" y="433" width="5.5" height="3" fill="#fff" />
<rect x="293" y="433" width="5" height="3" fill="#fff" />
<rect x="277" y="439" width="5.5" height="3" fill="#fff" />
<rect x="293" y="439" width="5" height="3" fill="#fff" />
<rect x="277" y="445" width="5.5" height="3" fill="#fff" />
<rect x="293" y="445" width="5" height="3" fill="#fff" />
<rect x="277" y="450" width="5.5" height="3" fill="#fff" />
<rect x="293" y="450" width="5" height="3" fill="#fff" />
<rect x="277" y="456" width="5.5" height="3" fill="#fff" />
<rect x="293" y="456" width="5" height="3" fill="#fff" />
<rect x="277" y="462" width="5.5" height="3" fill="#fff" />
<rect x="293" y="462" width="5" height="3" fill="#fff" />
<rect x="277" y="468" width="5.5" height="3" fill="#fff" />
<rect x="293" y="468" width="5" height="3" fill="#fff" />
<rect x="277" y="474" width="5.5" height="3" fill="#fff" />
<rect x="293" y="474" width="5" height="3" fill="#fff" />
<rect x="277" y="480" width="5.5" height="3" fill="#fff" />
<rect x="293" y="480" width="5" height="3" fill="#fff" />
<rect x="285" y="408" width="5" height="34" fill="#fff" />
<rect x="285" y="447" width="5" height="33" fill="#fff" />
<rect x="302" y="311" width="24" height="83" fill="#000" />
<path d="M311.5 311L314.0 314L316.5 311Z" fill="#fff"/>
<rect x="304" y="314" width="5.5" height="3" fill="#fff" />
<rect x="320" y="314" width="5" height="3" fill="#fff" />
<rect x="304" y="319" width="5.5" height="3" fill="#fff" />
<rect x="320" y="319" width="5" height="3" fill="#fff" />
<rect x="304" y="325" width="5.5" height="3" fill="#fff" />
<rect x="320" y="325" width="5" height="3" fill="#fff" />
<rect x="304" y="331" width="5.5" height="3" fill="#fff" />
<rect x="320" y="331" width="5" height="3" fill="#fff" />
<rect x="304" y="337" width="5.5" height="3" fill="#fff" />
<rect x="320" y="337" width="5" height="3" fill="#fff" />
<rect x="304" y="343" width="5.5" height="3" fill="#fff" />
<rect x="320" y="343" width="5" height="3" fill="#fff" />
<rect x="304" y="349" width="5.5" height="3" fill="#fff" />
<rect x="320" y="349" width="5" height="3" fill="#fff" />
<rect x="304" y="355" width="5.5" height="3" fill="#fff" />
<rect x="320" y="355" width="5" height="3" fill="#fff" />
<rect x="304" y="360" width="5.5" height="3" fill="#fff" />
<rect x="320" y="360" width="5" height="3" fill="#fff" />
<rect x="304" y="366" width="5.5" height="3" fill="#fff" />
<rect x="320" y="366" width="5" height="3" fill="#fff" />
<rect x="304" y="372" width="5.5" height="3" fill="#fff" />
<rect x="320" y="372" width="5" height="3" fill="#fff" />
<rect x="304" y="378" width="5.5" height="3" fill="#fff" />
<rect x="320" y="378" width="5" height="3" fill="#fff" />
<rect x="304" y="384" width="5.5" height="3" fill="#fff" />
<rect x="320" y="384" width="5" height="3" fill="#fff" />
<rect x="304" y="390" width="5.5" height="3" fill="#fff" />
<rect x="320" y="390" width="5" height="3" fill="#fff" />
<rect x="312" y="318" width="5" height="34" fill="#fff" />
<rect x="312" y="357" width="5" height="33" fill="#fff" />
<rect x="302" y="401" width="24" height="83" fill="#000" />
<path d="M311.5 401L314.0 404L316.5 401Z" fill="#fff"/>
<rect x="304" y="404" width="5.5" height="3" fill="#fff" />
<rect x="320" y="404" width="5" height="3" fill="#fff" />
<rect x="304" y="409" width="5.5" height="3" fill="#fff" />
<rect x="320" y="409" width="5" height="3" fill="#fff" />
<rect x="304" y="415" width="5.5" height="3" fill="#fff" />
<rect x="320" y="415" width="5" height="3" fill="#fff" />
<rect x="304" y="421" width="5.5" height="3" fill="#fff" />
<rect x="320" y="421" width="5" height="3" fill="#fff" />
<rect x="304" y="427" width="5.5" height="3" fill="#fff" />
<rect x="320" y="427" width="5" height="3" fill="#fff" />
<rect x="304" y="433" width="5.5" height="3" fill="#fff" />
<rect x="320" y="433" width="5" height="3" fill="#fff" />
<rect x="304" y="439" width="5.5" height="3" fill="#fff" />
<rect x="320" y="439" width="5" height="3" fill="#fff" />
<rect x="304" y="445" width="5.5" height="3" fill="#fff" />
<rect x="320" y="445" width="5" height="3" fill="#fff" />
<rect x="304" y="450" width="5.5" height="3" fill="#fff" />
<rect x="320" y="450" width="5" height="3" fill="#fff" />
<rect x="304" y="456" width="5.5" height="3" fill="#fff" />
<rect x="320" y="456" width="5" height="3" fill="#fff" />
<rect x="304" y="462" width="5.5" height="3" fill="#fff" />
<rect x="320" y="462" width="5" height="3" fill="#fff" />
<rect x="304" y="468" width="5.5" height="3" fill="#fff" />
<rect x="320" y="468" width="5" height="3" fill="#fff" />
<rect x="304" y="474" width="5.5" height="3" fill="#fff" />
<rect x="320" y="474" width="5" height="3" fill="#fff" />
<rect x="304" y="480" width="5.5" height="3" fill="#fff" />
<rect x="320" y="480" width="5" height="3" fill="#fff" />
<rect x="312" y="408" width="5" height="34" fill="#fff" />
<rect x="312" y="447" width="5" height="33" fill="#fff" />
<rect x="247" y="346" width="55" height="14" fill="#fff" />
<rect x="295" y="347" width="1" height="10" fill="#000" />
<rect x="293" y="348" width="2" height="1" fill="#000" />
<text transform="scale(0.68,1)" x="373.82 385.88 399.56 414.71" y="356.9" font-size="14.2" text-anchor="middle" fill="#000">BANK</text>
<rect x="251" y="391" width="47" height="14" fill="#fff" />
<text transform="scale(0.68,1)" x="375.59 390.00 403.53 417.35 430.88" y="401.7" font-size="14.2" text-anchor="middle" fill="#000">CACHE</text>
<rect x="247" y="435" width="56" height="15" fill="#fff" />
<path d="M294.6 437.902L297.20000000000005 440.502V443.99999999999994L294.6 446.59999999999997L292.0 443.99999999999994V440.502Z" fill="none" stroke="#000" stroke-width="1" shape-rendering="auto"/>
<text transform="scale(0.68,1)" x="373.82 385.88 399.56 414.71" y="446.9" font-size="14.2" text-anchor="middle" fill="#000">BANK</text>
<rect x="29" y="193" width="25" height="71" fill="#000" />
<path d="M39.0 193L41.5 196L44.0 193Z" fill="#fff"/>
<rect x="31" y="196" width="5" height="3" fill="#fff" />
<rect x="47" y="196" width="5" height="3" fill="#fff" />
<rect x="31" y="202" width="5" height="3" fill="#fff" />
<rect x="47" y="202" width="5" height="3" fill="#fff" />
<rect x="31" y="207" width="5" height="3" fill="#fff" />
<rect x="47" y="207" width="5" height="3" fill="#fff" />
<rect x="31" y="213" width="5" height="3" fill="#fff" />
<rect x="47" y="213" width="5" height="3" fill="#fff" />
<rect x="31" y="219" width="5" height="3" fill="#fff" />
<rect x="47" y="219" width="5" height="3" fill="#fff" />
<rect x="31" y="224" width="5" height="3" fill="#fff" />
<rect x="47" y="224" width="5" height="3" fill="#fff" />
<rect x="31" y="230" width="5" height="3" fill="#fff" />
<rect x="47" y="230" width="5" height="3" fill="#fff" />
<rect x="31" y="236" width="5" height="3" fill="#fff" />
<rect x="47" y="236" width="5" height="3" fill="#fff" />
<rect x="31" y="242" width="5" height="3" fill="#fff" />
<rect x="47" y="242" width="5" height="3" fill="#fff" />
<rect x="31" y="247" width="5" height="3" fill="#fff" />
<rect x="47" y="247" width="5" height="3" fill="#fff" />
<rect x="31" y="253" width="5" height="3" fill="#fff" />
<rect x="47" y="253" width="5" height="3" fill="#fff" />
<rect x="31" y="259" width="5" height="3" fill="#fff" />
<rect x="47" y="259" width="5" height="3" fill="#fff" />
<rect x="39" y="200" width="5" height="60" fill="#fff" />
<rect x="26.0" y="227.0" width="31" height="16" rx="3" ry="3" fill="#fff" stroke="#000" stroke-width="2"/>
<text transform="scale(0.68,1)" x="46.32 58.09 72.50" y="238.9" font-size="14.2" text-anchor="middle" fill="#000">TAG</text>
<rect x="528" y="362" width="89" height="41" fill="#000" />
<rect x="615" y="376" width="2" height="12" fill="#fff" />
<rect x="530" y="400" width="4" height="1" fill="#fff" />
<rect x="537" y="400" width="3" height="1" fill="#fff" />
<rect x="543" y="400" width="3" height="1" fill="#fff" />
<rect x="549" y="400" width="3" height="1" fill="#fff" />
<rect x="555" y="400" width="4" height="1" fill="#fff" />
<rect x="561" y="400" width="4" height="1" fill="#fff" />
<rect x="568" y="400" width="3" height="1" fill="#fff" />
<rect x="574" y="400" width="3" height="1" fill="#fff" />
<rect x="580" y="400" width="3" height="1" fill="#fff" />
<rect x="586" y="400" width="3" height="1" fill="#fff" />
<rect x="592" y="400" width="4" height="1" fill="#fff" />
<rect x="599" y="400" width="3" height="1" fill="#fff" />
<rect x="605" y="400" width="3" height="1" fill="#fff" />
<rect x="611" y="400" width="3" height="1" fill="#fff" />
<rect x="552" y="375" width="41" height="14" rx="2" fill="#fff"/>
<text transform="scale(0.68,1)" x="824.26 834.12 843.97 857.65" y="386.9" font-size="14.2" text-anchor="middle" fill="#000">BIOS</text>
<rect x="604" y="429" width="126" height="43" fill="#000" />
<rect x="728" y="445" width="2" height="12" fill="#fff" />
<rect x="607" y="431" width="3" height="1" fill="#fff" />
<rect x="613" y="431" width="4" height="1" fill="#fff" />
<rect x="619" y="431" width="4" height="1" fill="#fff" />
<rect x="626" y="431" width="3" height="1" fill="#fff" />
<rect x="632" y="431" width="3" height="1" fill="#fff" />
<rect x="638" y="431" width="3" height="1" fill="#fff" />
<rect x="644" y="431" width="3" height="1" fill="#fff" />
<rect x="650" y="431" width="4" height="1" fill="#fff" />
<rect x="657" y="431" width="3" height="1" fill="#fff" />
<rect x="663" y="431" width="3" height="1" fill="#fff" />
<rect x="669" y="431" width="3" height="1" fill="#fff" />
<rect x="675" y="431" width="4" height="1" fill="#fff" />
<rect x="682" y="431" width="3" height="1" fill="#fff" />
<rect x="688" y="431" width="3" height="1" fill="#fff" />
<rect x="694" y="431" width="4" height="1" fill="#fff" />
<rect x="700" y="431" width="3" height="1" fill="#fff" />
<rect x="706" y="431" width="4" height="1" fill="#fff" />
<rect x="713" y="431" width="3" height="1" fill="#fff" />
<rect x="719" y="431" width="3" height="1" fill="#fff" />
<rect x="725" y="431" width="3" height="1" fill="#fff" />
<rect x="653" y="444" width="28" height="14" rx="2" fill="#fff"/>
<text transform="scale(0.68,1)" x="967.65 980.15 992.94" y="454.9" font-size="14.2" text-anchor="middle" fill="#000">KBD</text>
<rect x="756" y="424" width="29" height="37" fill="#000" />
<rect x="780" y="419" width="5" height="46" fill="#000" />
<rect x="783" y="417" width="2" height="50" fill="#000" />
<rect x="749.5" y="432.5" width="6" height="8" fill="none" stroke="#000" stroke-width="1" />
<rect x="749.5" y="444.5" width="6" height="7" fill="none" stroke="#000" stroke-width="1" />
<rect x="754.5" y="430.5" width="2" height="24" fill="none" stroke="#000" stroke-width="1" />
<rect x="638.5" y="484.5" width="112" height="23" fill="none" stroke="#000" stroke-width="1" />
<rect x="639" y="491" width="111" height="1" fill="#000" />
<rect x="640" y="487" width="7" height="3" fill="#000" />
<rect x="641" y="488" width="5" height="1" fill="#fff" />
<rect x="641" y="490" width="5" height="1" fill="#000" />
<rect x="640" y="494" width="8" height="2" fill="#000" />
<rect x="649" y="487" width="7" height="3" fill="#000" />
<rect x="650" y="488" width="5" height="1" fill="#fff" />
<rect x="650" y="490" width="5" height="1" fill="#000" />
<rect x="649" y="494" width="7" height="2" fill="#000" />
<rect x="659" y="487" width="7" height="3" fill="#000" />
<rect x="660" y="488" width="5" height="1" fill="#fff" />
<rect x="660" y="490" width="5" height="1" fill="#000" />
<rect x="659" y="494" width="8" height="2" fill="#000" />
<rect x="668" y="487" width="7" height="3" fill="#000" />
<rect x="669" y="488" width="5" height="1" fill="#fff" />
<rect x="669" y="490" width="5" height="1" fill="#000" />
<rect x="668" y="494" width="7" height="2" fill="#000" />
<rect x="677" y="487" width="7" height="3" fill="#000" />
<rect x="678" y="488" width="5" height="1" fill="#fff" />
<rect x="678" y="490" width="5" height="1" fill="#000" />
<rect x="677" y="494" width="8" height="2" fill="#000" />
<rect x="686" y="487" width="7" height="3" fill="#000" />
<rect x="687" y="488" width="5" height="1" fill="#fff" />
<rect x="687" y="490" width="5" height="1" fill="#000" />
<rect x="686" y="494" width="7" height="2" fill="#000" />
<rect x="696" y="487" width="7" height="3" fill="#000" />
<rect x="697" y="488" width="5" height="1" fill="#fff" />
<rect x="697" y="490" width="5" height="1" fill="#000" />
<rect x="696" y="494" width="8" height="2" fill="#000" />
<rect x="705" y="487" width="7" height="3" fill="#000" />
<rect x="706" y="488" width="5" height="1" fill="#fff" />
<rect x="706" y="490" width="5" height="1" fill="#000" />
<rect x="705" y="494" width="7" height="2" fill="#000" />
<rect x="714" y="487" width="7" height="3" fill="#000" />
<rect x="715" y="488" width="5" height="1" fill="#fff" />
<rect x="715" y="490" width="5" height="1" fill="#000" />
<rect x="714" y="494" width="8" height="2" fill="#000" />
<rect x="724" y="487" width="7" height="3" fill="#000" />
<rect x="725" y="488" width="5" height="1" fill="#fff" />
<rect x="725" y="490" width="5" height="1" fill="#000" />
<rect x="724" y="494" width="7" height="2" fill="#000" />
<rect x="733" y="487" width="7" height="3" fill="#000" />
<rect x="734" y="488" width="5" height="1" fill="#fff" />
<rect x="734" y="490" width="5" height="1" fill="#000" />
<rect x="733" y="494" width="8" height="2" fill="#000" />
<rect x="742" y="487" width="7" height="3" fill="#000" />
<rect x="743" y="488" width="5" height="1" fill="#fff" />
<rect x="743" y="490" width="5" height="1" fill="#000" />
<rect x="742" y="494" width="7" height="2" fill="#000" />
<rect x="644.5" y="497.5" width="7" height="7" fill="none" stroke="#000" stroke-width="1" />
<rect x="653.5" y="497.5" width="7" height="7" fill="none" stroke="#000" stroke-width="1" />
<rect x="663.5" y="497.5" width="7" height="7" fill="none" stroke="#000" stroke-width="1" />
<rect x="672.5" y="497.5" width="7" height="7" fill="none" stroke="#000" stroke-width="1" />
<rect x="681.5" y="497.5" width="7" height="7" fill="none" stroke="#000" stroke-width="1" />
<rect x="691.5" y="497.5" width="7" height="7" fill="none" stroke="#000" stroke-width="1" />
<rect x="700.5" y="497.5" width="7" height="7" fill="none" stroke="#000" stroke-width="1" />
<rect x="710.5" y="497.5" width="7" height="7" fill="none" stroke="#000" stroke-width="1" />
<rect x="719.5" y="497.5" width="7" height="7" fill="none" stroke="#000" stroke-width="1" />
<rect x="728.5" y="497.5" width="7" height="7" fill="none" stroke="#000" stroke-width="1" />
<rect x="738.5" y="497.5" width="6" height="7" fill="none" stroke="#000" stroke-width="1" />
<rect x="638" y="500" width="1" height="2" fill="#fff" />
<rect x="640" y="499" width="1" height="4" fill="#000" />
<rect x="638.5" y="497.5" width="3" height="2" fill="none" stroke="#000" stroke-width="1" />
<rect x="638.5" y="502.5" width="3" height="2" fill="none" stroke="#000" stroke-width="1" />
<rect x="750" y="500" width="1" height="2" fill="#fff" />
<rect x="748" y="499" width="1" height="4" fill="#000" />
<rect x="747.5" y="497.5" width="3" height="2" fill="none" stroke="#000" stroke-width="1" />
<rect x="747.5" y="502.5" width="3" height="2" fill="none" stroke="#000" stroke-width="1" />
<rect x="557.0" y="488.0" width="34" height="17" rx="3" ry="3" fill="#fff" stroke="#000" stroke-width="2"/>
<rect x="581" y="490" width="1" height="10" fill="#000" />
<rect x="579" y="491" width="2" height="1" fill="#000" />
<text transform="scale(0.68,1)" x="830.88 843.38" y="499.7" font-size="14.2" text-anchor="middle" fill="#000">JP</text>
<path d="M607 495L602 494.5L591 492L591 501L602 498L607 497Z" fill="#000"/>
<path d="M599 496.5L589.8 494.4L589.8 498.8Z" fill="#fff"/>
<rect x="607" y="486" width="7" height="19" fill="#000" />
<rect x="608" y="487" width="5" height="1" fill="#fff" />
<rect x="609.5" y="489" width="3" height="3" fill="#fff" />
<rect x="608" y="493" width="5" height="1" fill="#fff" />
<rect x="608" y="498" width="5" height="2" fill="#fff" />
<rect x="704.0" y="219.0" width="34" height="17" rx="3" ry="3" fill="#fff" stroke="#000" stroke-width="2"/>
<text transform="scale(0.68,1)" x="1047.50 1059.41 1071.32" y="231" font-size="14.2" text-anchor="middle" fill="#000">BAT</text>
<path d="M754 226L749 225.5L738 223L738 232L749 229L754 228Z" fill="#000"/>
<path d="M746 227.5L736.8 225.4L736.8 229.8Z" fill="#fff"/>
<rect x="754.5" y="224.5" width="25" height="6" fill="none" stroke="#000" stroke-width="1" />
<rect x="754" y="224" width="26" height="2" fill="#000" />
<rect x="756" y="225" width="5" height="3" fill="#000" />
<rect x="762" y="225" width="5" height="3" fill="#000" />
<rect x="774" y="225" width="4" height="3" fill="#000" />
<path d="M372 59L375 41L376.5 41L380 59Z" fill="#000"/>
<rect x="359.0" y="59.0" width="32" height="16" rx="3" ry="3" fill="#fff" stroke="#000" stroke-width="2"/>
<rect x="384" y="61" width="1" height="10" fill="#000" />
<rect x="382" y="62" width="2" height="1" fill="#000" />
<text transform="scale(0.68,1)" x="536.76 551.47" y="71" font-size="14.2" text-anchor="middle" fill="#000">CN</text>
<path d="M373.8 60.5L375.7 50L377.6 60.5Z" fill="#fff"/>
<rect x="643" y="47" width="1" height="9" fill="#000" />
<rect x="641" y="48" width="2" height="1" fill="#000" />
<text transform="scale(0.68,1)" x="922.06 936.18 956.03 965.15 975.74" y="56" font-size="13.2" text-anchor="middle" fill="#000">MH045</text>
<defs><g id="simm"><rect x="0.5" y="0.5" width="225" height="18" fill="none" stroke="#000"/><rect x="-0.5" y="7.5" width="8" height="7" fill="#fff" stroke="#000"/><rect x="7" y="0" width="4" height="17" fill="#000"/><path d="M11.5 5.5H13.5V7.5H17.5V5.5H20.5V15.5H11M17.5 0V5.5" fill="none" stroke="#000"/><rect x="25" y="2" width="175" height="14" fill="#000"/><rect x="29" y="3" width="1" height="4" fill="#fff"/><rect x="28" y="9" width="5" height="6" fill="#fff"/><rect x="31" y="16" width="2" height="1" fill="#000"/><rect x="35" y="3" width="1" height="4" fill="#fff"/><rect x="34" y="9" width="4" height="6" fill="#fff"/><rect x="37" y="16" width="2" height="1" fill="#000"/><rect x="41" y="3" width="1" height="4" fill="#fff"/><rect x="40" y="9" width="5" height="6" fill="#fff"/><rect x="43" y="16" width="2" height="1" fill="#000"/><rect x="47" y="3" width="2" height="4" fill="#fff"/><rect x="46" y="9" width="4" height="6" fill="#fff"/><rect x="49" y="16" width="2" height="1" fill="#000"/><rect x="53" y="3" width="1" height="4" fill="#fff"/><rect x="52" y="9" width="5" height="6" fill="#fff"/><rect x="55" y="16" width="2" height="1" fill="#000"/><rect x="59" y="3" width="1" height="4" fill="#fff"/><rect x="58" y="9" width="4" height="6" fill="#fff"/><rect x="61" y="16" width="2" height="1" fill="#000"/><rect x="65" y="3" width="1" height="4" fill="#fff"/><rect x="64" y="9" width="5" height="6" fill="#fff"/><rect x="67" y="16" width="2" height="1" fill="#000"/><rect x="71" y="3" width="1" height="4" fill="#fff"/><rect x="70" y="9" width="4" height="6" fill="#fff"/><rect x="73" y="16" width="2" height="1" fill="#000"/><rect x="77" y="3" width="1" height="4" fill="#fff"/><rect x="76" y="9" width="5" height="6" fill="#fff"/><rect x="79" y="16" width="2" height="1" fill="#000"/><rect x="83" y="3" width="1" height="4" fill="#fff"/><rect x="82" y="9" width="4" height="6" fill="#fff"/><rect x="85" y="16" width="2" height="1" fill="#000"/><rect x="89" y="3" width="2" height="4" fill="#fff"/><rect x="88" y="9" width="5" height="6" fill="#fff"/><rect x="91" y="16" width="2" height="1" fill="#000"/><rect x="95" y="3" width="1" height="4" fill="#fff"/><rect x="94" y="9" width="4" height="6" fill="#fff"/><rect x="97" y="16" width="2" height="1" fill="#000"/><rect x="101" y="3" width="1" height="4" fill="#fff"/><rect x="100" y="9" width="5" height="6" fill="#fff"/><rect x="103" y="16" width="2" height="1" fill="#000"/><rect x="107" y="3" width="1" height="4" fill="#fff"/><rect x="106" y="9" width="4" height="6" fill="#fff"/><rect x="109" y="16" width="2" height="1" fill="#000"/><rect x="113" y="3" width="1" height="4" fill="#fff"/><rect x="112" y="9" width="5" height="6" fill="#fff"/><rect x="115" y="16" width="2" height="1" fill="#000"/><rect x="119" y="3" width="1" height="4" fill="#fff"/><rect x="118" y="9" width="4" height="6" fill="#fff"/><rect x="121" y="16" width="2" height="1" fill="#000"/><rect x="125" y="3" width="1" height="4" fill="#fff"/><rect x="124" y="9" width="5" height="6" fill="#fff"/><rect x="127" y="16" width="2" height="1" fill="#000"/><rect x="131" y="3" width="2" height="4" fill="#fff"/><rect x="130" y="9" width="4" height="6" fill="#fff"/><rect x="133" y="16" width="2" height="1" fill="#000"/><rect x="137" y="3" width="1" height="4" fill="#fff"/><rect x="136" y="9" width="5" height="6" fill="#fff"/><rect x="139" y="16" width="2" height="1" fill="#000"/><rect x="143" y="3" width="1" height="4" fill="#fff"/><rect x="142" y="9" width="4" height="6" fill="#fff"/><rect x="145" y="16" width="2" height="1" fill="#000"/><rect x="149" y="3" width="1" height="4" fill="#fff"/><rect x="148" y="9" width="5" height="6" fill="#fff"/><rect x="151" y="16" width="2" height="1" fill="#000"/><rect x="155" y="3" width="1" height="4" fill="#fff"/><rect x="154" y="9" width="4" height="6" fill="#fff"/><rect x="157" y="16" width="2" height="1" fill="#000"/><rect x="161" y="3" width="1" height="4" fill="#fff"/><rect x="160" y="9" width="5" height="6" fill="#fff"/><rect x="163" y="16" width="2" height="1" fill="#000"/><rect x="167" y="3" width="1" height="4" fill="#fff"/><rect x="166" y="9" width="4" height="6" fill="#fff"/><rect x="169" y="16" width="2" height="1" fill="#000"/><rect x="173" y="3" width="2" height="4" fill="#fff"/><rect x="172" y="9" width="5" height="6" fill="#fff"/><rect x="175" y="16" width="2" height="1" fill="#000"/><rect x="179" y="3" width="1" height="4" fill="#fff"/><rect x="178" y="9" width="4" height="6" fill="#fff"/><rect x="181" y="16" width="2" height="1" fill="#000"/><rect x="185" y="3" width="1" height="4" fill="#fff"/><rect x="184" y="9" width="5" height="6" fill="#fff"/><rect x="187" y="16" width="2" height="1" fill="#000"/><rect x="191" y="3" width="1" height="4" fill="#fff"/><rect x="190" y="9" width="4" height="6" fill="#fff"/><rect x="193" y="16" width="2" height="1" fill="#000"/><rect x="197" y="3" width="1" height="4" fill="#fff"/><rect x="196" y="9" width="2" height="6" fill="#fff"/><rect x="199" y="16" width="2" height="1" fill="#000"/><path d="M204.5 16V6.5H206.5M206.5 1V8.5H211.5V5.5H214M204 15.5H213.5V7" fill="none" stroke="#000"/><rect x="206" y="1" width="8" height="1" fill="#000"/><rect x="214" y="0" width="4" height="17" fill="#000"/><rect x="216" y="2" width="1" height="13" fill="#fff"/><path d="M217 7.5H225M217 14.5H225" fill="none" stroke="#000"/></g></defs>
<use href="#simm" x="44" y="12"/>
<use href="#simm" x="44" y="32"/>
<use href="#simm" x="44" y="52"/>
<use href="#simm" x="44" y="72"/>
<use href="#simm" x="45" y="95"/>
<rect x="261" y="97" width="1" height="14" fill="#000" />
<use href="#simm" x="45" y="116"/>
<rect x="261" y="118" width="1" height="14" fill="#000" />
<use href="#simm" x="45" y="136"/>
<rect x="261" y="138" width="1" height="14" fill="#000" />
<use href="#simm" x="45" y="156"/>
<rect x="261" y="158" width="1" height="14" fill="#000" />
<rect x="128.0" y="44.0" width="58" height="16" rx="3" ry="3" fill="#fff" stroke="#000" stroke-width="2"/>
<path d="M176.4 46.80199999999999L179.0 49.401999999999994V52.9L176.4 55.5L173.8 52.9V49.401999999999994Z" fill="none" stroke="#000" stroke-width="1" shape-rendering="auto"/>
<text transform="scale(0.68,1)" x="200.29 211.32 223.68 237.35" y="55.8" font-size="14.2" text-anchor="middle" fill="#000">BANK</text>
<rect x="129.0" y="127.0" width="58" height="16" rx="3" ry="3" fill="#fff" stroke="#000" stroke-width="2"/>
<rect x="179" y="130" width="1" height="9" fill="#000" />
<rect x="177" y="131" width="2" height="1" fill="#000" />
<text transform="scale(0.68,1)" x="201.47 211.76 223.68 237.35" y="139.3" font-size="14.2" text-anchor="middle" fill="#000">BANK</text>
<rect x="9" y="67" width="13" height="7" fill="#000" />
<rect x="15" y="68" width="1" height="5" fill="#fff" />
<rect x="20" y="68" width="1" height="5" fill="#fff" />
<rect x="31.0" y="47.0" width="32" height="15" rx="3" ry="3" fill="#fff" stroke="#000" stroke-width="2"/>
<text transform="scale(0.68,1)" x="55.88 69.12 81.47" y="58.8" font-size="14.2" text-anchor="middle" fill="#000">RST</text>
<path d="M30 60L22.5 69.5L25 71.5L34.5 62Z" fill="#000"/>
<path d="M31.5 62.5L27.5 67.5" stroke="#fff" stroke-width="0.9" fill="none" shape-rendering="auto"/>
<rect x="9" y="98" width="13" height="6" fill="#000" />
<rect x="15" y="99" width="1" height="4" fill="#fff" />
<rect x="20" y="99" width="1" height="4" fill="#fff" />
<rect x="30.0" y="77.0" width="34" height="16" rx="3" ry="3" fill="#fff" stroke="#000" stroke-width="2"/>
<text transform="scale(0.68,1)" x="53.53 64.71 80.15" y="89" font-size="14.2" text-anchor="middle" fill="#000">TSW</text>
<path d="M29 90.5L22.5 100L24.5 102L33.5 92.5Z" fill="#000"/>
<path d="M30.5 93L26.5 98" stroke="#fff" stroke-width="0.9" fill="none" shape-rendering="auto"/>
<rect x="9" y="117" width="13" height="7" fill="#000" />
<rect x="15" y="118" width="1" height="5" fill="#fff" />
<rect x="20" y="118" width="1" height="5" fill="#fff" />
<rect x="39.0" y="112.0" width="34" height="17" rx="3" ry="3" fill="#fff" stroke="#000" stroke-width="2"/>
<text transform="scale(0.68,1)" x="69.71 80.15 94.12" y="123.9" font-size="14.2" text-anchor="middle" fill="#000">LED</text>
<path d="M23 119L28 118.5L39 116L39 125L28 122L23 121Z" fill="#000"/>
<path d="M31 120.5L40.2 118.4L40.2 122.8Z" fill="#fff"/>
<rect x="9" y="133" width="25" height="6" fill="#000" />
<rect x="11" y="135" width="3" height="2" fill="#fff" />
<rect x="15" y="134" width="1" height="4" fill="#fff" />
<rect x="21" y="134" width="1" height="4" fill="#fff" />
<rect x="26" y="134" width="2" height="4" fill="#fff" />
<rect x="32" y="134" width="1" height="4" fill="#fff" />
<rect x="43.0" y="144.0" width="32" height="17" rx="3" ry="3" fill="#fff" stroke="#000" stroke-width="2"/>
<text transform="scale(0.68,1)" x="72.06 86.03 98.53" y="156.9" font-size="14.2" text-anchor="middle" fill="#000">SPK</text>
<path d="M35 137.5L42 145.5L44.5 143.5L37.5 135.5Z" fill="#000"/>
<rect x="9" y="175" width="31" height="6" fill="#000" />
<rect x="14" y="176" width="2" height="4" fill="#fff" />
<rect x="20" y="176" width="2" height="4" fill="#fff" />
<rect x="26" y="176" width="2" height="4" fill="#fff" />
<rect x="32" y="176" width="1" height="4" fill="#fff" />
<rect x="34" y="177" width="3" height="2" fill="#fff" />
<rect x="38" y="176" width="1" height="4" fill="#fff" />
<rect x="56.0" y="170.0" width="34" height="17" rx="3" ry="3" fill="#fff" stroke="#000" stroke-width="2"/>
<text transform="scale(0.68,1)" x="94.12 106.76 118.68" y="181.9" font-size="14.2" text-anchor="middle" fill="#000">KEY</text>
<path d="M40 177L45 176.5L56 174L56 183L45 180L40 179Z" fill="#000"/>
<path d="M48 178.5L57.2 176.4L57.2 180.8Z" fill="#fff"/>
<rect x="12" y="286" width="7.5" height="54" rx="3.5" fill="#000"/>
<rect x="20" y="286" width="7.5" height="54" rx="3.5" fill="#000"/>
<rect x="28" y="286" width="7.5" height="54" rx="3.5" fill="#000"/>
<rect x="18" y="289" width="3" height="48" fill="#000" />
<rect x="26" y="289" width="3" height="48" fill="#000" />
<path d="M13.3 292L15.3 290H17.8V294H15.3Z" fill="#fff"/>
<path d="M13.3 298L15.3 296H17.8V300H15.3Z" fill="#fff"/>
<path d="M13.3 304L15.3 302H17.8V306H15.3Z" fill="#fff"/>
<path d="M13.3 310L15.3 308H17.8V312H15.3Z" fill="#fff"/>
<path d="M13.3 316L15.3 314H17.8V318H15.3Z" fill="#fff"/>
<path d="M13.3 322L15.3 320H17.8V324H15.3Z" fill="#fff"/>
<path d="M13.3 328L15.3 326H17.8V330H15.3Z" fill="#fff"/>
<path d="M13.3 334L15.3 332H17.8V336H15.3Z" fill="#fff"/>
<rect x="22" y="290.5" width="3.6" height="3.5" fill="#fff" />
<rect x="22" y="296.5" width="3.6" height="3.5" fill="#fff" />
<rect x="22" y="302.5" width="3.6" height="3.5" fill="#fff" />
<rect x="22" y="308.5" width="3.6" height="3.5" fill="#fff" />
<rect x="22" y="314.5" width="3.6" height="3.5" fill="#fff" />
<rect x="22" y="320.5" width="3.6" height="3.5" fill="#fff" />
<rect x="22" y="326.5" width="3.6" height="3.5" fill="#fff" />
<rect x="22" y="332.5" width="3.6" height="3.5" fill="#fff" />
<path d="M34.3 292L32.3 290H29.8V294H32.3Z" fill="#fff"/>
<path d="M34.3 298L32.3 296H29.8V300H32.3Z" fill="#fff"/>
<path d="M34.3 304L32.3 302H29.8V306H32.3Z" fill="#fff"/>
<path d="M34.3 310L32.3 308H29.8V312H32.3Z" fill="#fff"/>
<path d="M34.3 316L32.3 314H29.8V318H32.3Z" fill="#fff"/>
<path d="M34.3 322L32.3 320H29.8V324H32.3Z" fill="#fff"/>
<path d="M34.3 328L32.3 326H29.8V330H32.3Z" fill="#fff"/>
<path d="M34.3 334L32.3 332H29.8V336H32.3Z" fill="#fff"/>
<rect x="31.0" y="262.0" width="33" height="16" rx="3" ry="3" fill="#fff" stroke="#000" stroke-width="2"/>
<text transform="scale(0.68,1)" x="57.21 69.12 80.44" y="273.9" font-size="14.2" text-anchor="middle" fill="#000">CJ2</text>
<path d="M30 276L23 285.5L25.5 287L34.5 279Z" fill="#000"/>
<path d="M31.5 279L28 283.5" stroke="#fff" stroke-width="0.9" fill="none" shape-rendering="auto"/>
<rect x="52.0" y="305.0" width="34" height="17" rx="3" ry="3" fill="#fff" stroke="#000" stroke-width="2"/>
<text transform="scale(0.68,1)" x="88.24 100.88 112.65" y="317.1" font-size="14.2" text-anchor="middle" fill="#000">CJ3</text>
<path d="M36 312L41 311.5L52 309L52 318L41 315L36 314Z" fill="#000"/>
<path d="M44 313.5L53.2 311.4L53.2 315.8Z" fill="#fff"/>
<rect x="24.0" y="349.0" width="33" height="16" rx="3" ry="3" fill="#fff" stroke="#000" stroke-width="2"/>
<rect x="49" y="351" width="1" height="10" fill="#000" />
<rect x="47" y="352" width="2" height="1" fill="#000" />
<text transform="scale(0.68,1)" x="45.88 58.68" y="360.8" font-size="14.2" text-anchor="middle" fill="#000">CJ</text>
<path d="M16 342.5L23 350.5L27 348.5L19.5 341Z" fill="#000"/>
<path d="M19.5 343.5L23.5 348" stroke="#fff" stroke-width="0.9" fill="none" shape-rendering="auto"/>
<rect x="13" y="385" width="7" height="19" fill="#000" />
<rect x="14" y="390" width="5" height="2" fill="#fff" />
<rect x="14" y="396" width="5" height="2" fill="#fff" />
<rect x="15" y="399" width="3" height="2" fill="#fff" />
<rect x="14" y="402" width="5" height="1" fill="#fff" />
<rect x="37.0" y="386.0" width="34" height="17" rx="3" ry="3" fill="#fff" stroke="#000" stroke-width="2"/>
<text transform="scale(0.68,1)" x="64.71 77.35 89.26" y="397.9" font-size="14.2" text-anchor="middle" fill="#000">JP3</text>
<path d="M21 393L26 392.5L37 390L37 399L26 396L21 395Z" fill="#000"/>
<path d="M29 394.5L38.2 392.4L38.2 396.8Z" fill="#fff"/>
<rect x="13" y="435" width="7" height="19" fill="#000" />
<rect x="14" y="440" width="5" height="2" fill="#fff" />
<rect x="14" y="446" width="5" height="2" fill="#fff" />
<rect x="15" y="449" width="3" height="2" fill="#fff" />
<rect x="14" y="452" width="5" height="1" fill="#fff" />
<rect x="37.0" y="437.0" width="34" height="16" rx="3" ry="3" fill="#fff" stroke="#000" stroke-width="2"/>
<text transform="scale(0.68,1)" x="66.18 78.68 90.44" y="448.7" font-size="14.2" text-anchor="middle" fill="#000">JP2</text>
<path d="M21 443L26 442.5L37 440L37 449L26 446L21 445Z" fill="#000"/>
<path d="M29 444.5L38.2 442.4L38.2 446.8Z" fill="#fff"/>
<rect x="22" y="478" width="49" height="2" fill="#000" />
<rect x="22" y="504" width="49" height="2" fill="#000" />
<rect x="22" y="478" width="1" height="28" fill="#000" />
<rect x="23" y="480" width="1" height="24" fill="#000" />
<rect x="69" y="478" width="2" height="28" fill="#000" />
<rect x="24" y="480" width="3" height="3" fill="#fff" />
<rect x="66" y="480" width="3" height="3" fill="#fff" />
<rect x="24" y="501" width="3" height="3" fill="#fff" />
<rect x="66" y="501" width="3" height="3" fill="#fff" />
<path d="M24.5 483.5Q24.5 480.5 27 480.5M66 480.5Q68.5 480.5 68.5 483M24.5 501Q24.5 503.5 27 503.5M66 503.5Q68.5 503.5 68.5 501" fill="none" stroke="#000" stroke-width="1"/>
<rect x="115.5" y="494.5" width="53" height="18" fill="none" stroke="#000" stroke-width="1" />
<rect x="120" y="499" width="6" height="10" fill="#000" />
<rect x="127" y="499" width="6" height="10" fill="#000" />
<rect x="134" y="499" width="6" height="10" fill="#000" />
<rect x="141" y="499" width="6" height="10" fill="#000" />
<rect x="148" y="499" width="6" height="10" fill="#000" />
<rect x="157.5" y="499.5" width="4" height="9" fill="none" stroke="#000" stroke-width="1" />
<path d="M162 507L165 510L163 511Z" fill="#000"/>
<rect x="163.5" y="507.5" width="3" height="3" fill="none" stroke="#000" stroke-width="1" />
<rect x="187.0" y="495.0" width="34" height="17" rx="3" ry="3" fill="#fff" stroke="#000" stroke-width="2"/>
<rect x="214" y="497" width="1" height="10" fill="#000" />
<rect x="212" y="498" width="2" height="1" fill="#000" />
<text transform="scale(0.68,1)" x="285.29 299.26" y="506.9" font-size="14.2" text-anchor="middle" fill="#000">SW</text>
<path d="M171 502L176 501.5L187 499L187 508L176 505L171 504Z" fill="#000"/>
<path d="M179 503.5L188.2 501.4L188.2 505.8Z" fill="#fff"/>
</svg></body></html>
